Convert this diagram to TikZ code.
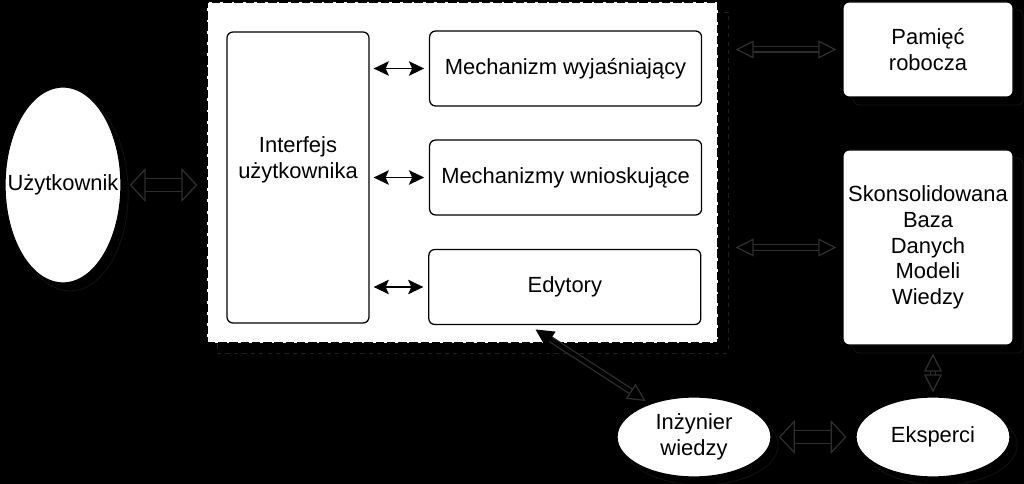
\documentclass[tikz,border=0pt]{standalone}
\usepackage{fontspec}
\setmainfont{Liberation Sans}
\usetikzlibrary{arrows.meta,shapes.geometric,shadows}

\tikzset{
    box/.style={draw, fill=white, rounded corners=0.15cm, line width=0.9pt, align=center, inner sep=0pt},
    outbox/.style={box, drop shadow={shadow xshift=0.25cm, shadow yshift=-0.2cm, fill=black, draw=black!93, line width=0.6pt, opacity=1}},
    oval/.style={ellipse, draw, fill=white, line width=0.9pt, align=center, inner sep=0pt, drop shadow={shadow xshift=0.18cm, shadow yshift=-0.2cm, fill=black, draw=black!93, line width=0.6pt, opacity=1}},
    smallarrow/.style={line width=1.3pt, {Stealth[length=0.38cm,width=0.36cm,inset=0.08cm]}-{Stealth[length=0.38cm,width=0.36cm,inset=0.08cm]}},
    bigarrow/.style={draw=black!82, line width=0.9pt, double=black, double distance=0.3cm, {Triangle[open,length=0.4cm,width=0.85cm,line width=0.9pt]}-{Triangle[open,length=0.4cm,width=0.85cm,line width=0.9pt]}},
    thinarrow/.style={draw=black!82, line width=0.9pt, double=black, double distance=0.1cm, {Triangle[open,length=0.45cm,width=0.45cm,line width=0.9pt]}-{Triangle[open,length=0.45cm,width=0.45cm,line width=0.9pt]}}
}

\begin{document}
\begin{tikzpicture}[font=\fontsize{15.6}{18.2}\selectfont]
    \fill[black] (0,0) rectangle (25.6,-12.1);
    \useasboundingbox (0,0) rectangle (25.6,-12.1);

    % system frame
    \node[draw, fill=white, line width=1.2pt, dash pattern=on 6pt off 2pt, minimum width=12.775cm, minimum height=8.525cm,
          general shadow={shadow xshift=0.25cm, shadow yshift=-0.25cm, fill=black, draw=black!88, line width=0.6pt, dashed}] (frame) at (11.5625,-4.3125) {};
    \node[box, minimum width=3.55cm, minimum height=7.275cm] (ui) at (7.45,-4.4375) {};
    \node[align=center] (uitext) at (7.45,-4.0) {Interfejs\\użytkownika};
    \node[box, minimum width=6.8cm, minimum height=1.875cm] (expl) at (14.14,-1.7125) {Mechanizm wyjaśniający};
    \node[box, minimum width=6.8cm, minimum height=1.875cm] (infer) at (14.14,-4.4375) {Mechanizmy wnioskujące};
    \node[box, minimum width=6.8cm, minimum height=1.875cm] (edit) at (14.12,-7.175) {Edytory};

    \draw[smallarrow, shorten <=0.1cm, shorten >=0.12cm] (ui.east |- expl.west) -- (expl.west);
    \draw[smallarrow, shorten <=0.1cm, shorten >=0.12cm] (ui.east |- infer.west) -- (infer.west);
    \draw[smallarrow, shorten <=0.1cm, shorten >=0.12cm] (ui.east |- edit.west) -- (edit.west);

    % outside
    \node[oval, minimum width=2.9cm, minimum height=4.9cm, label=center:Użytkownik] (user) at (1.575,-4.625) {};
    \node[outbox, minimum width=4.25cm, minimum height=2.375cm] (mem) at (23.2,-1.2375) {Pamięć\\robocza};
    \node[outbox, minimum width=4.25cm, minimum height=4.875cm] (base) at (23.2,-6.1875) {Skonsolidowana\\Baza\\Danych\\Modeli\\Wiedzy};
    \node[oval, minimum width=3.85cm, minimum height=2cm] (eng) at (17.35,-10.925) {Inżynier\\wiedzy};
    \node[oval, minimum width=3.85cm, minimum height=2cm] (expert) at (23.325,-10.925) {Eksperci};

    \draw[bigarrow, shorten <=0.2cm, shorten >=0.22cm] (user.east) -- (user.east -| frame.west);
    \draw[thinarrow, shorten <=0.42cm, shorten >=0.15cm] (frame.east |- mem.west) -- (mem.west);
    \draw[thinarrow, shorten <=0.42cm, shorten >=0.15cm] (frame.east |- base.west) -- (base.west);
    \draw[thinarrow, shorten <=0.2cm, shorten >=0.1cm] (expert.north |- base.south) -- (expert.north);
    \draw[bigarrow, shorten <=0.18cm, shorten >=0.22cm] (eng.east) -- (expert.west);
    \draw[thinarrow, {Triangle[length=0.45cm,width=0.45cm,color=black]}-{Triangle[open,length=0.45cm,width=0.45cm,line width=0.9pt]}, shorten <=0.2cm, shorten >=0.12cm] ([xshift=-0.9cm]edit.south) -- (eng.143);
\end{tikzpicture}
\end{document}
